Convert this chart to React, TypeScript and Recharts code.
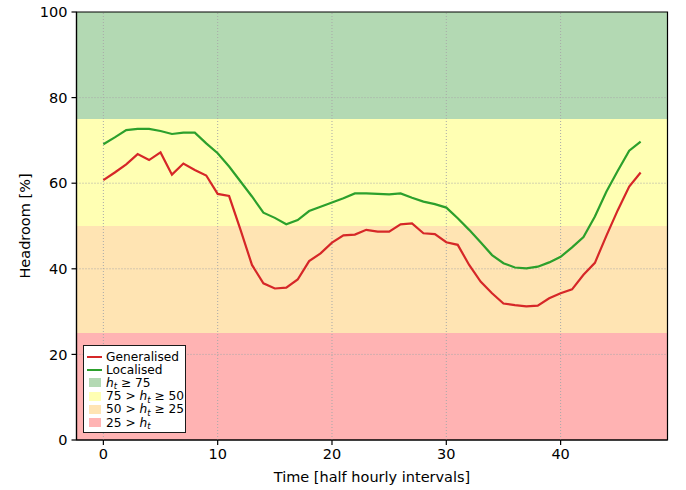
import React from "react";
import {
  LineChart,
  Line,
  XAxis,
  YAxis,
  ReferenceArea,
  ReferenceLine,
  Label,
} from "recharts";

// half hourly intervals 0..47
const intervals = [
  0, 1, 2, 3, 4, 5, 6, 7, 8, 9, 10, 11, 12, 13, 14, 15, 16, 17, 18, 19, 20, 21,
  22, 23, 24, 25, 26, 27, 28, 29, 30, 31, 32, 33, 34, 35, 36, 37, 38, 39, 40,
  41, 42, 43, 44, 45, 46, 47,
];

const generalised = [
  60.7, 62.5, 64.4, 66.8, 65.4, 67.2, 62.0, 64.6, 63.1, 61.8,
  57.5, 57.0, 49.1, 40.9, 36.6, 35.4, 35.6, 37.5, 41.8, 43.6,
  46.1, 47.8, 48.0, 49.1, 48.7, 48.7, 50.4, 50.6, 48.3, 48.1,
  46.2, 45.6, 40.9, 37.0, 34.3, 31.9, 31.5, 31.2, 31.4, 33.1,
  34.3, 35.2, 38.6, 41.4, 47.7, 53.7, 59.2, 62.5,
];

const localised = [
  69.1, 70.7, 72.4, 72.7, 72.7, 72.2, 71.5, 71.8, 71.8, 69.3,
  67.0, 63.9, 60.4, 56.9, 53.1, 51.9, 50.4, 51.4, 53.5, 54.5,
  55.5, 56.5, 57.6, 57.6, 57.5, 57.4, 57.6, 56.6, 55.7, 55.1,
  54.3, 51.8, 49.1, 46.2, 43.2, 41.3, 40.3, 40.1, 40.5, 41.5,
  42.8, 45.0, 47.4, 52.2, 58.0, 62.9, 67.6, 69.7,
];

// headroom bands
const bandLow = [75, 50, 25, 0];
const bandHigh = [100, 75, 50, 25];
const bandColors = ["#b3d9b3", "#ffffb3", "#ffe4b3", "#ffb3b3"];

const xTicks = [0, 10, 20, 30, 40];
const yTicks = [0, 20, 40, 60, 80, 100];
const xDomain: [number, number] = [-2.35, 49.35];

const RED = "#d62728";
const GREEN = "#2ca02c";

const data = intervals.map((t, i) => ({
  t,
  generalised: generalised[i],
  localised: localised[i],
}));

const Ht = () => (
  <span>
    <i>h</i>
    <span
      style={{
        fontSize: 8.5,
        lineHeight: "8px",
        fontStyle: "italic",
        position: "relative",
        top: 2.5,
      }}
    >
      t
    </span>
  </span>
);

const LegendBox = () => {
  const row = { display: "flex", alignItems: "center", height: 13.2 };
  const line = (c: string) => (
    <span style={{ display: "inline-block", width: 15, height: 2.2, background: c, marginRight: 4 }} />
  );
  const patch = (c: string) => (
    <span
      style={{ display: "inline-block", width: 12, height: 9, background: c, marginLeft: 1.5, marginRight: 5.5 }}
    />
  );
  return (
    <div
      style={{
        position: "absolute",
        left: 83,
        top: 345,
        width: 103,
        height: 88,
        border: "1.3px solid #1a1a1a",
        background: "#fff",
        fontSize: 12.2,
        lineHeight: "12px",
        padding: "4px 0 0 3px",
        boxSizing: "border-box",
        color: "#000",
      }}
    >
      <div style={row}>{line(RED)}<span>Generalised</span></div>
      <div style={row}>{line(GREEN)}<span>Localised</span></div>
      <div style={row}>
        {patch(bandColors[0])}
        <span><Ht />{" ≥ 75"}</span>
      </div>
      <div style={row}>
        {patch(bandColors[1])}
        <span>{"75 > "}<Ht />{" ≥ 50"}</span>
      </div>
      <div style={row}>
        {patch(bandColors[2])}
        <span>{"50 > "}<Ht />{" ≥ 25"}</span>
      </div>
      <div style={row}>
        {patch(bandColors[3])}
        <span>{"25 > "}<Ht /></span>
      </div>
    </div>
  );
};

export default function App() {
  const tickStyle = { fontSize: 14.5, fill: "#000" };
  return (
    <div
      style={{
        position: "absolute",
        left: 0,
        top: 0,
        width: 686,
        height: 490,
        background: "#fff",
        fontFamily: "'DejaVu Sans', sans-serif",
      }}
    >
      <LineChart
        width={686}
        height={490}
        data={data}
        margin={{ top: 12, right: 18.5, left: 0, bottom: 0 }}
      >
        {bandLow.map((lo, i) => (
          <ReferenceArea
            key={i}
            x1={xDomain[0]}
            x2={xDomain[1]}
            y1={lo}
            y2={bandHigh[i]}
            fill={bandColors[i]}
            fillOpacity={1}
            stroke="none"
          />
        ))}
        {xTicks.map((x) => (
          <ReferenceLine
            key={"gx" + x}
            x={x}
            stroke="#a8a8a8"
            strokeWidth={1}
            strokeDasharray="1 2"
          />
        ))}
        {yTicks.slice(1, -1).map((y) => (
          <ReferenceLine
            key={"gy" + y}
            y={y}
            stroke="#a8a8a8"
            strokeWidth={1}
            strokeDasharray="1 2"
          />
        ))}
        <XAxis
          dataKey="t"
          type="number"
          domain={xDomain}
          allowDataOverflow
          ticks={xTicks}
          height={50}
          tickSize={5}
          tickMargin={4}
          tick={tickStyle}
          stroke="#000"
          axisLine={{ stroke: "#000", strokeWidth: 1.2 }}
          tickLine={{ stroke: "#000", strokeWidth: 1.2 }}
        >
          <Label
            content={() => (
              <text x={372} y={482} textAnchor="middle" fontSize={14.5} fill="#000">
                Time [half hourly intervals]
              </text>
            )}
          />
        </XAxis>
        <YAxis
          type="number"
          domain={[0, 100]}
          ticks={yTicks}
          width={76.5}
          tickSize={5}
          tickMargin={4}
          tick={tickStyle}
          stroke="#000"
          axisLine={{ stroke: "#000", strokeWidth: 1.2 }}
          tickLine={{ stroke: "#000", strokeWidth: 1.2 }}
        >
          <Label
            content={() => (
              <text
                x={25}
                y={226}
                transform="rotate(-90 25 226)"
                textAnchor="middle"
                dominantBaseline="central"
                fontSize={14.5}
                fill="#000"
              >
                Headroom [%]
              </text>
            )}
          />
        </YAxis>
        <Line
          type="linear"
          dataKey="generalised"
          stroke={RED}
          strokeWidth={2.2}
          dot={false}
          isAnimationActive={false}
        />
        <Line
          type="linear"
          dataKey="localised"
          stroke={GREEN}
          strokeWidth={2.2}
          dot={false}
          isAnimationActive={false}
        />
        <ReferenceArea
          x1={xDomain[0]}
          x2={xDomain[1]}
          y1={0}
          y2={100}
          fill="none"
          stroke="#000"
          strokeWidth={1.2}
        />
      </LineChart>
      <LegendBox />
    </div>
  );
}
